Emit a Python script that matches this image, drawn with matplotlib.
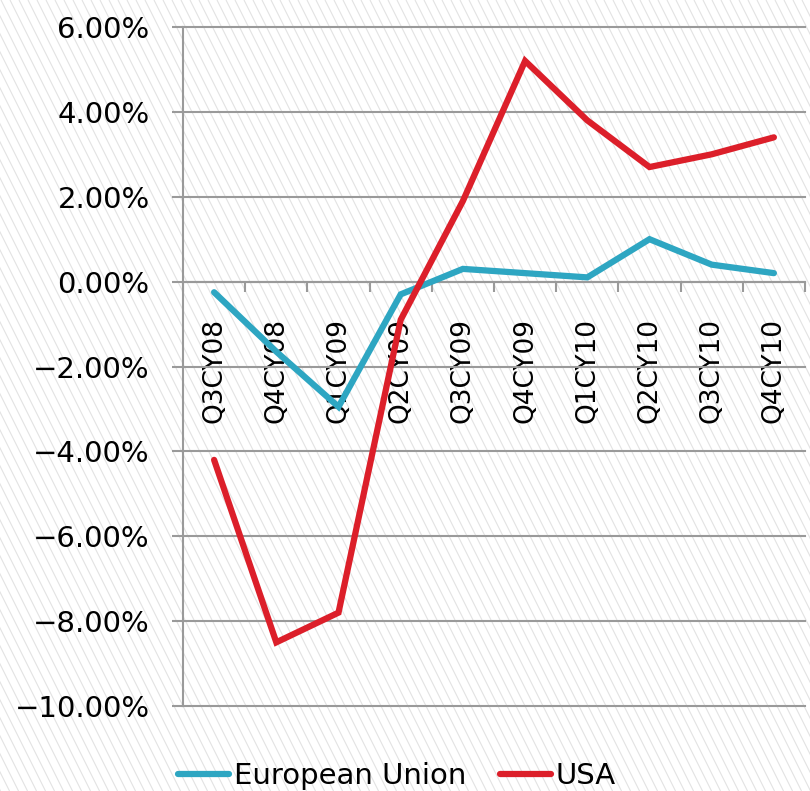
import numpy as np
import matplotlib
matplotlib.use("Agg")
from matplotlib import pyplot as plt
from matplotlib.collections import LineCollection

# quarters on the x axis
quarters = ["Q3CY08", "Q4CY08", "Q1CY09", "Q2CY09", "Q3CY09",
            "Q4CY09", "Q1CY10", "Q2CY10", "Q3CY10", "Q4CY10"]

# growth rates in percent
eu_vals = [-0.25, -1.65, -2.95, -0.3, 0.3, 0.2, 0.1, 1.0, 0.4, 0.2]
usa_vals = [-4.2, -8.5, -7.8, -0.9, 1.9, 5.2, 3.8, 2.7, 3.0, 3.4]

y_ticks = [-10, -8, -6, -4, -2, 0, 2, 4, 6]
y_labels = ["\u221210.00%", "\u22128.00%", "\u22126.00%", "\u22124.00%",
            "\u22122.00%", "0.00%", "2.00%", "4.00%", "6.00%"]

eu_color = "#2ea6c2"
usa_color = "#dc1f2a"
grid_color = "#9a9a9a"

plt.rcParams["font.family"] = ["DejaVu Sans"]

W, H = 810, 791
fig = plt.figure(figsize=(W / 100, H / 100), dpi=100)
fig.patch.set_facecolor("white")

# faint diagonal stripes over the whole picture (steep, falling to the right)
segs = []
for c in range(-H, W + 10, 9):
    segs.append([(c / W, 1.0), ((c + H / 2) / W, 0.0)])
stripes = LineCollection(segs, colors="#e2e2e2", linewidths=0.8,
                         transform=fig.transFigure, zorder=-10)
fig.add_artist(stripes)

ax = fig.add_axes([183 / W, 1 - 706 / H, 622 / W, 679 / H])
ax.set_facecolor("none")

x = np.arange(len(quarters))
ax.plot(x, eu_vals, color=eu_color, lw=4.5, label="European Union",
        solid_capstyle="round", solid_joinstyle="miter", zorder=3)
ax.plot(x, usa_vals, color=usa_color, lw=4.5, label="USA",
        solid_capstyle="round", solid_joinstyle="miter", zorder=4)

ax.set_xlim(-0.5, len(quarters) - 0.5)
ax.set_ylim(-10, 6)

# y axis
ax.set_yticks(y_ticks)
ax.set_yticklabels(y_labels, fontsize=21)
ax.tick_params(axis="y", direction="out", length=8, width=1.5,
               color=grid_color, pad=16)
ax.yaxis.grid(True, color=grid_color, lw=1.5)
for gl in ax.get_ygridlines():
    gl.set_clip_on(False)

# x axis crossing at zero, labels hanging below
for s in ["top", "right"]:
    ax.spines[s].set_visible(False)
ax.spines["bottom"].set_position(("data", 0))
ax.spines["bottom"].set_color(grid_color)
ax.spines["bottom"].set_linewidth(1.5)
ax.spines["left"].set_color(grid_color)
ax.spines["left"].set_linewidth(1.5)

ax.set_xticks(np.arange(len(quarters) + 1) - 0.5)
ax.set_xticklabels([])
ax.tick_params(axis="x", which="major", direction="out", length=7,
               width=1.5, color=grid_color)
ax.set_xticks(x, minor=True)
ax.set_xticklabels(quarters, minor=True, rotation=90, fontsize=19)
ax.tick_params(axis="x", which="minor", length=0, pad=26)

leg = fig.legend(loc="center left", bbox_to_anchor=(178 / W, 1 - 776 / H),
                 ncol=2, frameon=False, fontsize=21, handlelength=1.75,
                 handletextpad=0.17, columnspacing=1.15, borderaxespad=0,
                 borderpad=0)

fig.savefig("out.png", dpi=100)
